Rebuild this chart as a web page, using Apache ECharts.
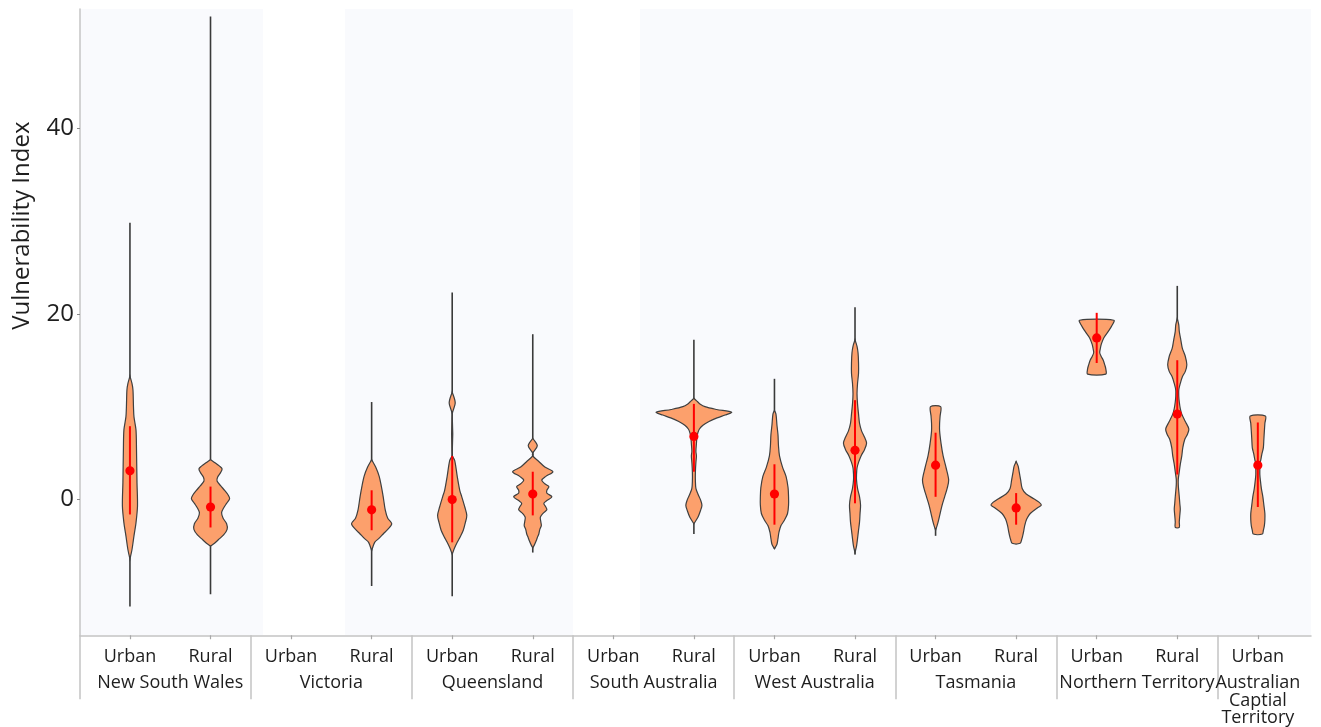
<!DOCTYPE html>
<html>
<head>
<meta charset="utf-8">
<title>Vulnerability Index by state</title>
<script src="https://cdn.jsdelivr.net/npm/echarts@6/dist/echarts.min.js"></script>
<style>
  html, body { margin: 0; padding: 0; background: #ffffff; }
  #chart { width: 1321px; height: 727px; }
</style>
</head>
<body>
<div id="chart"></div>
<script>
// Area type of each violin slot, left to right
const categories = ['Urban', 'Rural', 'Urban', 'Rural', 'Urban', 'Rural', 'Urban', 'Rural',
  'Urban', 'Rural', 'Urban', 'Rural', 'Urban', 'Rural', 'Urban'];
// State each slot belongs to (index into states)
const stateOf = [0, 0, 1, 1, 2, 2, 3, 3, 4, 4, 5, 5, 6, 6, 7];
const states = ['New South Wales', 'Victoria', 'Queensland', 'South Australia',
  'West Australia', 'Tasmania', 'Northern Territory', 'Australian\nCaptial\nTerritory'];

const yTicks = [0, 20, 40];

// Summary statistics per slot (null = no data)
const whiskerLow  = [-11.5, -10.2, null, -9.3, -10.4, -5.7, null, -3.7, -5.3, -5.9, -3.9, -4.7, 13.5, -3.0, -3.7];
const whiskerHigh = [29.8, 52.0, null, 10.5, 22.3, 17.8, null, 17.2, 13.0, 20.7, 10.0, 4.1, 19.3, 23.0, 9.0];
const medians     = [3.1, -0.8, null, -1.1, 0.0, 0.6, null, 6.8, 0.6, 5.3, 3.7, -0.9, 17.4, 9.2, 3.7];
const q1          = [-1.6, -3.0, null, -3.3, -4.6, -1.7, null, 3.0, -2.7, -0.4, 0.3, -2.7, 14.7, 2.7, -0.8];
const q3          = [7.9, 1.4, null, 1.0, 4.7, 3.0, null, 10.3, 3.8, 10.7, 7.2, 0.7, 20.1, 15.0, 8.3];

// Kernel density profiles: [index value, density] from top to bottom
const nswUrban = [[13.3, 0], [12.5, 4], [11.8, 6], [10.0, 7], [8.9, 8], [7.5, 12], [5.4, 13], [1.8, 14],
  [-0.7, 15], [-2.5, 12], [-3.9, 8], [-5.4, 4], [-6.4, 0]];
const nswRural = [[4.3, 0], [4.0, 8], [3.6, 18], [3.3, 23], [2.9, 20], [2.4, 14], [2.0, 13], [1.5, 20],
  [1.0, 28], [0.5, 35], [0.1, 38], [-0.4, 32], [-0.9, 26], [-1.4, 22], [-2.0, 25], [-2.6, 32],
  [-3.2, 33], [-3.8, 26], [-4.3, 16], [-4.7, 8], [-5.0, 0]];
const vicRural = [[4.3, 0], [3.5, 8], [2.5, 15], [1.5, 19], [0.3, 23], [-1.1, 27], [-2.0, 32], [-2.6, 40],
  [-3.2, 32], [-3.7, 23], [-4.2, 14], [-4.6, 6], [-5.5, 0]];
const qldUrban = [[11.6, 0], [10.4, 6], [9.2, 0], [4.8, 0], [4.2, 5], [2.5, 10], [1.0, 15], [0.3, 19],
  [-0.8, 25], [-1.7, 29], [-2.5, 26], [-3.3, 22], [-4.0, 16], [-4.6, 10], [-5.3, 4], [-5.9, 0]];
const qldRural = [[6.6, 0], [5.8, 9], [5.0, 0], [4.7, 0], [4.1, 12], [3.5, 24], [3.0, 40], [2.5, 26],
  [2.1, 18], [1.7, 24], [1.4, 32], [1.0, 28], [0.7, 28], [0.3, 38], [-0.1, 28], [-0.4, 22],
  [-0.8, 26], [-1.1, 28], [-1.5, 20], [-1.9, 15], [-2.4, 16], [-2.8, 17], [-3.2, 14], [-3.7, 12],
  [-4.1, 9], [-4.4, 7], [-4.9, 3], [-5.2, 0]];
const saRural = [[10.9, 0], [10.6, 6], [10.3, 12], [10.0, 22], [9.7, 45], [9.4, 75], [9.1, 62], [8.8, 46],
  [8.4, 30], [8.0, 18], [7.6, 11], [7.2, 8], [6.7, 6], [6.0, 5], [5.2, 4], [4.7, 5], [4.0, 4],
  [3.0, 3], [2.0, 3], [1.2, 4], [0.6, 8], [0.0, 13], [-0.6, 16], [-1.2, 13], [-1.9, 8], [-2.6, 0]];
const waUrban = [[9.6, 0], [9.2, 3], [8.0, 5], [7.0, 7], [5.8, 8], [4.7, 10], [3.5, 16], [2.5, 23],
  [1.3, 27], [0.3, 28], [-0.6, 28], [-1.5, 26], [-2.2, 20], [-2.8, 13], [-3.5, 9], [-4.2, 7],
  [-4.8, 5], [-5.3, 0]];
const waRural = [[17.2, 0], [16.5, 4], [15.8, 6], [14.7, 7], [13.6, 7], [12.5, 5], [11.4, 4], [10.3, 5],
  [9.2, 7], [8.2, 9], [7.4, 13], [6.7, 19], [6.1, 23], [5.4, 19], [4.7, 12], [4.0, 7], [3.4, 4],
  [2.7, 3], [2.1, 3], [1.2, 5], [0.3, 9], [-0.6, 11], [-1.5, 10], [-2.4, 9], [-3.3, 7], [-4.2, 5],
  [-5.0, 3], [-5.7, 0]];
const tasUrban = [[10.0, 10], [9.0, 9], [8.2, 8], [7.4, 8], [6.0, 11], [4.7, 15], [3.4, 21], [2.1, 26],
  [1.2, 23], [0.3, 18], [-0.6, 13], [-1.5, 9], [-2.2, 6], [-2.8, 3], [-3.3, 0]];
const tasRural = [[4.1, 0], [3.6, 4], [3.0, 6], [2.1, 9], [1.2, 12], [0.6, 20], [0.1, 35], [-0.3, 46],
  [-0.6, 50], [-0.9, 42], [-1.5, 28], [-2.1, 21], [-2.8, 17], [-3.4, 15], [-3.9, 13], [-4.3, 11],
  [-4.7, 8]];
const ntUrban = [[19.3, 34], [18.7, 30], [18.1, 23], [17.4, 14], [16.7, 9], [16.2, 7], [15.8, 6],
  [15.4, 9], [15.0, 13], [14.5, 16], [14.1, 18], [13.5, 18]];
const ntRural = [[19.5, 0], [18.8, 3], [18.1, 4], [17.2, 7], [16.3, 10], [15.4, 16], [14.5, 19],
  [13.8, 16], [13.2, 10], [12.5, 6], [11.8, 3], [11.1, 3], [10.5, 4], [9.8, 6], [9.2, 9], [8.4, 16],
  [7.6, 23], [7.0, 20], [6.5, 15], [5.6, 11], [4.7, 9], [3.8, 6], [3.0, 4], [2.2, 2], [1.6, 2],
  [0.9, 3], [0.3, 4], [-0.4, 5], [-1.0, 6], [-1.7, 5], [-2.4, 4], [-3.0, 4]];
const actUrban = [[9.0, 15], [8.2, 14], [7.4, 13], [6.5, 12], [5.6, 11], [4.9, 8], [4.3, 6], [3.8, 4],
  [3.4, 4], [2.7, 4], [2.1, 5], [1.2, 7], [0.3, 10], [-0.6, 12], [-1.5, 14], [-2.2, 14], [-2.8, 13],
  [-3.3, 11], [-3.7, 9]];

const profiles = [nswUrban, nswRural, null, vicRural, qldUrban, qldRural, null, saRural,
  waUrban, waRural, tasUrban, tasRural, ntUrban, ntRural, actUrban];

// ---- layout ----
const X_MIN = -0.62, X_MAX = 14.66;     // a little space either side of the outer violins
const Y_MIN = -14.6, Y_MAX = 52.8;
const DENSITY_PER_BAND = 80;            // density that would fill one slot's full width
const FONT = '"Open Sans", "Noto Sans", sans-serif';

const slotIdx = categories.map((_, i) => i);
const stateCenters = states.map((_, s) => {
  const members = slotIdx.filter(i => stateOf[i] === s);
  return members.reduce((a, b) => a + b, 0) / members.length;
});
const dividers = [X_MIN].concat(states.slice(1).map((_, s) => {
  const last = Math.max(...slotIdx.filter(i => stateOf[i] === s));
  return last + 0.5;
}));

function renderViolin(params, api) {
  const i = params.dataIndex;
  const prof = profiles[i];
  if (!prof) return null;
  const cx = api.coord([i, 0])[0];
  const pxPerDensity = api.size([1, 0])[0] / DENSITY_PER_BAND;
  const children = [];
  if (whiskerLow[i] != null) {
    const a = api.coord([i, whiskerLow[i]]);
    const b = api.coord([i, whiskerHigh[i]]);
    children.push({ type: 'line', shape: { x1: cx, y1: a[1], x2: cx, y2: b[1] },
      style: { stroke: '#3a3a3a', lineWidth: 1.6 } });
  }
  const right = prof.map(([v, d]) => [cx + d * pxPerDensity / 2, api.coord([i, v])[1]]);
  const left = prof.slice().reverse().map(([v, d]) => [cx - d * pxPerDensity / 2, api.coord([i, v])[1]]);
  children.push({ type: 'polygon', shape: { points: right.concat(left), smooth: 0.3 },
    style: { fill: '#fca06c', stroke: '#3f3f3f', lineWidth: 1.2 } });
  const t = api.coord([i, q3[i]]);
  const u = api.coord([i, q1[i]]);
  children.push({ type: 'line', shape: { x1: cx, y1: t[1], x2: cx, y2: u[1] },
    style: { stroke: '#ff0000', lineWidth: 2 } });
  const m = api.coord([i, medians[i]]);
  children.push({ type: 'circle', shape: { cx: cx, cy: m[1], r: 4.6 },
    style: { fill: '#ff0000' } });
  return { type: 'group', children };
}

const chart = echarts.init(document.getElementById('chart'), null, { renderer: 'canvas' });

const axisText = { fontFamily: FONT, fontSize: 18, color: '#1e1e1e', margin: 13 };

const option = {
  backgroundColor: '#ffffff',
  animation: false,
  grid: { left: 80, right: 10, top: 9, bottom: 91, containLabel: false },
  xAxis: [
    {
      type: 'value', min: X_MIN, max: X_MAX, position: 'bottom', z: 10,
      axisLine: { show: true, onZero: false, lineStyle: { color: '#c4c4c4', width: 1.5 } },
      axisTick: { show: true, customValues: slotIdx, length: 4, lineStyle: { color: '#a8a8a8', width: 1.2 } },
      axisLabel: Object.assign({ customValues: slotIdx, formatter: v => categories[Math.round(v)] }, axisText),
      splitLine: { show: false }
    },
    {
      type: 'value', min: X_MIN, max: X_MAX, position: 'bottom', offset: 26, z: 10,
      axisLine: { show: false }, axisTick: { show: false },
      axisLabel: Object.assign({ customValues: stateCenters,
        formatter: v => states[stateCenters.findIndex(c => Math.abs(c - v) < 1e-6)],
        lineHeight: 17.5 }, axisText),
      splitLine: { show: false }
    },
    {
      type: 'value', min: X_MIN, max: X_MAX, position: 'bottom', z: 10,
      axisLine: { show: false },
      axisTick: { show: true, customValues: dividers, length: 64, lineStyle: { color: '#c4c4c4', width: 1.5 } },
      axisLabel: { show: false },
      splitLine: { show: false }
    }
  ],
  yAxis: {
    type: 'value', min: Y_MIN, max: Y_MAX, z: 10,
    name: 'Vulnerability Index', nameLocation: 'middle', nameGap: 46,
    nameTextStyle: { fontFamily: FONT, fontSize: 24, color: '#1e1e1e', padding: [0, 0, 0, 193] },
    axisLine: { show: true, onZero: false, lineStyle: { color: '#c4c4c4', width: 1.5 } },
    axisTick: { show: true, customValues: yTicks, length: 3, lineStyle: { color: '#888' } },
    axisLabel: { customValues: yTicks, fontFamily: FONT, fontSize: 24, color: '#1e1e1e', margin: 6 },
    splitLine: { show: false }
  },
  series: [
    {
      type: 'custom',
      xAxisIndex: 0, yAxisIndex: 0,
      renderItem: renderViolin,
      data: slotIdx.map(i => [i, medians[i]]),
      encode: { x: 0, y: 1 },
      clip: false,
      silent: true,
      z: 3,
      markArea: {
        silent: true,
        z: 1,
        itemStyle: { color: '#f9fafd' },
        data: [
          [{ xAxis: X_MIN }, { xAxis: 1.65 }],
          [{ xAxis: 2.67 }, { xAxis: 5.5 }],
          [{ xAxis: 6.33 }, { xAxis: X_MAX }]
        ]
      }
    }
  ]
};

chart.setOption(option);
</script>
</body>
</html>
